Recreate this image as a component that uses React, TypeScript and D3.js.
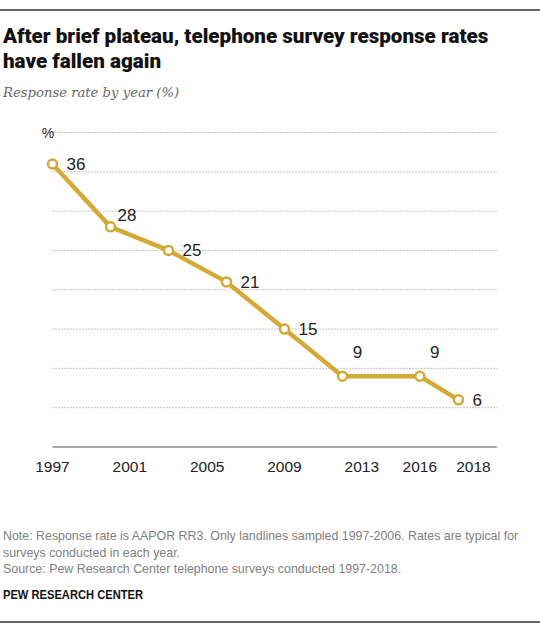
import * as d3 from "d3";

const years = [1997, 2000, 2003, 2006, 2009, 2012, 2016, 2018];
const rates = [36, 28, 25, 21, 15, 9, 9, 6];
const tickYears = [1997, 2001, 2005, 2009, 2013, 2016, 2018];
const gridValues = [5, 10, 15, 20, 25, 30, 35, 40];
const noteLines = [
  "Note: Response rate is AAPOR RR3. Only landlines sampled 1997-2006. Rates are typical for",
  "surveys conducted in each year.",
  "Source: Pew Research Center telephone surveys conducted 1997-2018.",
];

const W = 540;
const H = 633;
const GOLD = "#d3aa38";
const SANS = "'Liberation Sans', Arial, sans-serif";

export default function App() {
  const x = d3.scaleLinear().domain([1997, 2018]).range([52.5, 458.5]);
  const y = d3.scaleLinear().domain([0, 40]).range([447, 132.5]);
  const points = years.map((yr, i) => ({ year: yr, rate: rates[i] }));
  const line = d3
    .line<{ year: number; rate: number }>()
    .x((d) => x(d.year))
    .y((d) => y(d.rate));

  // label placement: right of the point, except a few lifted above
  const labelPos = (i: number) => {
    if (i === 1) return { dx: 7, dy: -12, anchor: "start" };
    if (i === 5 || i === 6) return { dx: 15, dy: -24, anchor: "middle" };
    return { dx: 14, dy: 0, anchor: "start" };
  };

  return (
    <svg
      width={W}
      height={H}
      style={{ position: "absolute", left: 0, top: 0, background: "#fff" }}
    >
      <line x1={0} x2={W} y1={10} y2={10} stroke="#333" strokeWidth={1.5} />
      <text x={3} y={43} fontFamily="Roboto, sans-serif" fontWeight={900} fontSize={20.6} fill="#111">
        After brief plateau, telephone survey response rates
      </text>
      <text x={3} y={68} fontFamily="Roboto, sans-serif" fontWeight={900} fontSize={20.6} fill="#111">
        have fallen again
      </text>
      <text x={3} y={97} fontFamily="'DejaVu Serif', serif" fontStyle="italic" fontSize={13.2} fill="#666">
        Response rate by year (%)
      </text>

      {gridValues.map((v) => (
        <line
          key={v}
          x1={x(1997)}
          x2={497}
          y1={y(v)}
          y2={y(v)}
          stroke="#888"
          strokeWidth={1}
          strokeDasharray="1,2"
        />
      ))}
      <line x1={x(1997)} x2={497} y1={y(0)} y2={y(0)} stroke="#a8a8a8" strokeWidth={2} />
      <text x={48} y={y(40) + 5} textAnchor="middle" fontFamily={SANS} fontSize={14} fill="#222">
        %
      </text>

      {tickYears.map((t, i) => (
        <text
          key={t}
          x={x(t) + (i === tickYears.length - 1 ? 15 : 0)}
          y={472}
          textAnchor="middle"
          fontFamily={SANS}
          fontSize={15.5}
          fill="#222"
        >
          {t}
        </text>
      ))}

      <path d={line(points) ?? ""} fill="none" stroke={GOLD} strokeWidth={4.5} strokeLinejoin="round" />
      {points.map((p) => (
        <circle key={p.year} cx={x(p.year)} cy={y(p.rate)} r={4.5} fill="#fff" stroke={GOLD} strokeWidth={2.5} />
      ))}
      {points.map((p, i) => {
        const lp = labelPos(i);
        return (
          <text
            key={"l" + p.year}
            x={x(p.year) + lp.dx}
            y={y(p.rate) + lp.dy}
            dy="0.35em"
            textAnchor={lp.anchor}
            fontFamily={SANS}
            fontSize={17}
            fill="#222"
          >
            {p.rate}
          </text>
        );
      })}

      {noteLines.map((l, i) => (
        <text key={i} x={3} y={540 + i * 16.5} fontFamily={SANS} fontSize={12.4} fill="#808080">
          {l}
        </text>
      ))}
      <text
        x={3}
        y={599}
        fontFamily={SANS}
        fontWeight={700}
        fontSize={12.5}
        textLength={140}
        lengthAdjust="spacingAndGlyphs"
        fill="#111"
      >
        PEW RESEARCH CENTER
      </text>
      <line x1={0} x2={W} y1={622} y2={622} stroke="#333" strokeWidth={1.5} />
    </svg>
  );
}
